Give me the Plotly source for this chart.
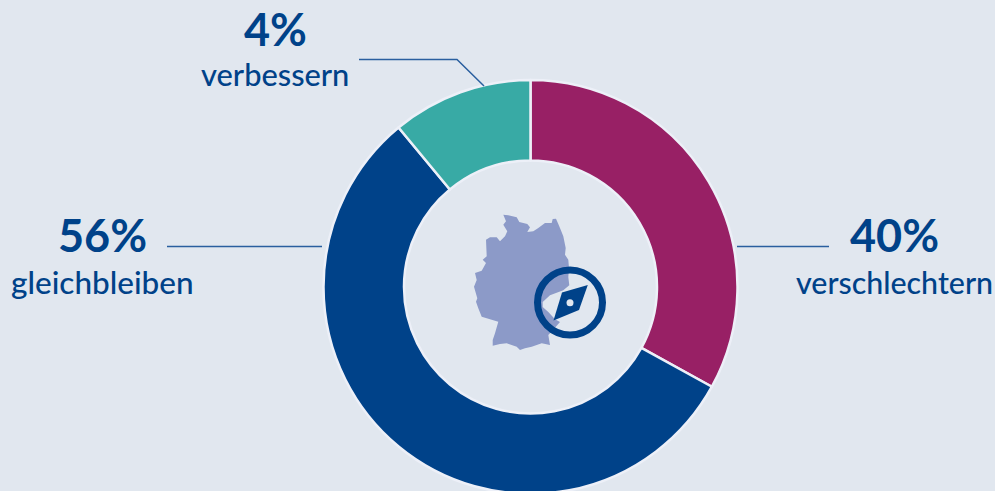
import plotly.graph_objects as go

categories = ["verschlechtern", "gleichbleiben", "verbessern"]
slice_values = [33, 56, 11]
printed_labels = ["40%", "56%", "4%"]
slice_colors = ["#982065", "#004289", "#38AAA5"]
label_x = [894.5, 102.5, 275]
pct_y = [234.5, 234.5, 28.5]
name_y = [281.5, 281.5, 74.5]
name_sizes = [30.4, 31.5, 30.8]

BG = "#E1E7EF"
NAVY = "#004289"
LINE = "#2A5F9F"
W, H = 995, 494
FONT = "Lato"


def px(x):
    return x / W


def py(y):
    return 1 - y / H


cx, cy, R = 530.5, 287, 207

fig = go.Figure(go.Pie(
    labels=categories, values=slice_values, sort=False, direction="clockwise",
    rotation=0, hole=126.5 / 207, textinfo="none", hoverinfo="label+percent",
    marker=dict(colors=slice_colors, line=dict(color="#EDF0F8", width=2.5)),
    domain=dict(x=[px(cx - R), px(cx + R)], y=[py(cy + R), py(cy - R)]),
    showlegend=False,
))

ann = []
for name, pct, lx, y1, y2, size in zip(categories, printed_labels, label_x, pct_y, name_y, name_sizes):
    ann.append(dict(text=f"<b>{pct}</b>", x=px(lx), y=py(y1), xref="paper", yref="paper",
                    showarrow=False, xanchor="center", yanchor="middle",
                    font=dict(family=FONT, size=45, color=NAVY)))
    ann.append(dict(text=name, x=px(lx), y=py(y2), xref="paper", yref="paper",
                    showarrow=False, xanchor="center", yanchor="middle",
                    font=dict(family=FONT, size=size, color=NAVY, weight=500)))


def path(points, close=True):
    d = "M" + " L".join(f"{px(a):.5f},{py(b):.5f}" for a, b in points)
    return d + (" Z" if close else "")


germany = [(503.3, 214.7), (508.3, 215.3), (516.7, 217.3), (519.3, 222), (527.3, 224), (530, 227.3),
           (527.3, 232), (533.3, 231.3), (538.3, 228), (545, 223), (551.7, 223), (552.7, 219),
           (556, 218.7), (558.3, 224), (560.7, 229.7), (563.3, 236.3), (565.7, 248), (565, 254.7),
           (568.3, 259.7), (569, 268), (568.3, 277), (569.3, 285.3), (563.3, 290.3), (550, 295.3),
           (542.7, 302), (542.7, 307), (548.3, 312), (555, 319.3), (560, 322), (553, 330),
           (548.3, 335), (550, 345), (541.7, 343.3), (531.7, 346.7), (525, 348.3), (520, 350),
           (516.7, 346.7), (506.7, 343.3), (500, 344), (492.7, 345.7), (492.7, 340), (495, 333.3),
           (498.3, 321.7), (490, 319.3), (481.7, 316.7), (478.3, 308.3), (476, 301.7), (477.3, 298.3),
           (474, 286.7), (476.7, 280), (475, 273), (481.7, 270.7), (486, 263), (482.7, 259.7),
           (486.7, 256.3), (486, 239.7), (490, 237.3), (496.7, 237.3), (500, 241.3), (505, 236.3),
           (507.3, 231.3), (503.3, 224.7), (506, 221.3)]
needle = [(587.8, 285), (579, 310), (553.5, 320.5), (562, 292.5)]


def line(points):
    return dict(type="path", path=path(points, close=False), xref="paper", yref="paper",
                line=dict(color=LINE, width=1.5))


def circle(x, y, r, **kw):
    return dict(type="circle", xref="paper", yref="paper", x0=px(x - r), x1=px(x + r),
                y0=py(y + r), y1=py(y - r), **kw)


shapes = [
    line([(167, 246.5), (322, 246.5)]),
    line([(737, 246.5), (829, 246.5)]),
    line([(359, 59.5), (457, 59.5), (484, 86)]),
    dict(type="path", path=path(germany), xref="paper", yref="paper",
         fillcolor="#8C9AC8", line=dict(width=0)),
    circle(570, 302.5, 32.5, line=dict(color=NAVY, width=7)),
    dict(type="path", path=path(needle), xref="paper", yref="paper",
         fillcolor=NAVY, line=dict(width=0)),
    circle(570, 302.7, 3.5, fillcolor=BG, line=dict(width=0)),
]

fig.update_layout(width=W, height=H, margin=dict(l=0, r=0, t=0, b=0), paper_bgcolor=BG,
                  plot_bgcolor=BG, annotations=ann, shapes=shapes)

fig.write_html("out.html", config=dict(displayModeBar=False), post_script=(
    "document.body.style.margin='0';document.body.style.overflow='hidden';"
    f"document.documentElement.style.overflow='hidden';document.documentElement.style.background='{BG}';"
))
